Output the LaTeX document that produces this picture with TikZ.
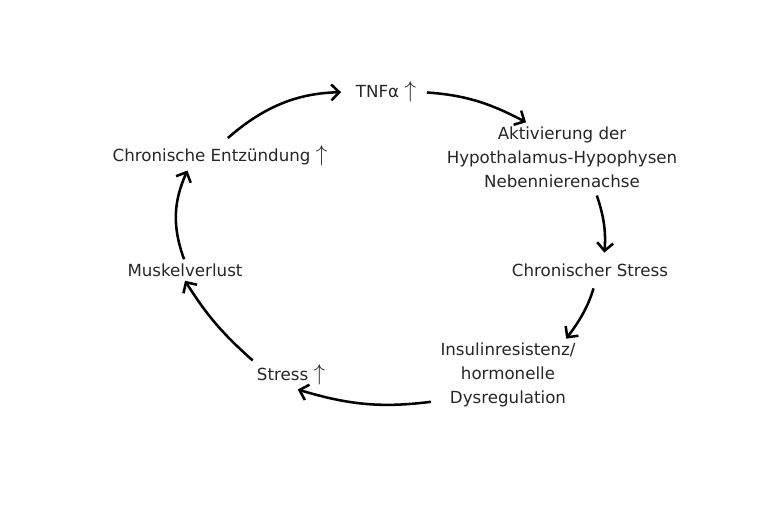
\documentclass[tikz,border=0pt]{standalone}
\usepackage{fontspec}
\setmainfont{DejaVu Sans}
\usetikzlibrary{arrows.meta}

\newcommand{\rises}{ {\fontsize{19}{19}\selectfont$\uparrow$}}

\begin{document}
\begin{tikzpicture}[x=0.75pt,y=0.75pt,
    stage/.style={font=\fontsize{12.5}{18}\selectfont, text=black!85, inner sep=3pt, align=center},
    cyc/.style={line width=1.9pt, -{Straight Barb[length=6pt,width=12pt,line width=1.9pt]}}]
  \useasboundingbox (0,0) rectangle (768,-512);
  % the stages of the cycle
  \node[stage] (tnf)  at (386,-92)  {TNFα\rises};
  \node[stage] (akt)  at (562,-157) {Aktivierung der\\Hypothalamus-Hypophysen\\Nebennierenachse};
  \node[stage] (chs)  at (590,-270) {Chronischer Stress};
  \node[stage] (ins)  at (508,-375) {Insulinresistenz/\\hormonelle\\Dysregulation};
  \node[stage] (str)  at (291,-375) {Stress\rises};
  \node[stage] (mus)  at (185,-270) {Muskelverlust};
  \node[stage] (entz) at (220,-156) {Chronische Entzündung\rises};
  % the arrows, clockwise
  \draw[cyc, shorten <=4pt, shorten >=8pt] (entz.75) to[bend left=20] (tnf.west);
  \draw[cyc, shorten <=5pt] (tnf.east) to[bend left=12] (akt.136);
  \draw[cyc, shorten <=3pt, shorten >=5pt] (akt.-46) to[bend left=12] (chs.38);
  \draw[cyc, shorten <=6pt] (chs.-61) to[bend left=10] (ins.32);
  \draw[cyc, shorten <=4pt] (ins.200) to[bend left=12] (str.-65);
  \draw[cyc] (str.north west) to[bend left=8] (mus.south);
  \draw[cyc] (mus.95) to[bend left=22] (entz.204);
\end{tikzpicture}
\end{document}
